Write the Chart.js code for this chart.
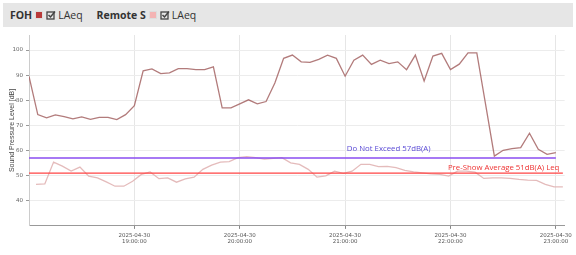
<!DOCTYPE html>
<html>
<head>
<meta charset="utf-8">
<script src="https://cdn.jsdelivr.net/npm/chart.js@4.4.1/dist/chart.umd.min.js"></script>
<style>
  html, body { margin: 0; padding: 0; background: #fff; }
  body { width: 576px; height: 255px; position: relative; overflow: hidden; }
  #bar {
    position: absolute; left: 3px; top: 3px; width: 570px; height: 24px;
    background: #e6e6e6; font-family: "Open Sans", sans-serif; font-size: 10.5px;
    color: #333; display: flex; align-items: center; padding-left: 7px; box-sizing: border-box;
  }
  #bar b { font-weight: 700; margin-right: 3px; }
  #bar .sw { display: inline-block; width: 6px; height: 6px; border: 1px solid #ddd; margin-right: 3px; }
  #bar svg { margin-right: 2px; }
  #bar .gap { margin-right: 14px; }
  #wrap { position: absolute; left: 0; top: 0; width: 576px; height: 255px; }
</style>
</head>
<body>
<div id="wrap"><canvas id="chart"></canvas></div>
<div id="bar">
  <b>FOH</b><span class="sw" style="background:#b83a3a"></span>
  <svg width="10" height="10" viewBox="0 0 10 10"><rect x="1" y="2" width="7" height="7" fill="none" stroke="#444" stroke-width="1.3"/><path d="M2.5 5 L4.5 7 L9 1.5" fill="none" stroke="#444" stroke-width="1.5"/></svg>
  <span class="gap">LAeq</span>
  <b>Remote S</b><span class="sw" style="background:#f4b4b4"></span>
  <svg width="10" height="10" viewBox="0 0 10 10"><rect x="1" y="2" width="7" height="7" fill="none" stroke="#444" stroke-width="1.3"/><path d="M2.5 5 L4.5 7 L9 1.5" fill="none" stroke="#444" stroke-width="1.5"/></svg>
  <span>LAeq</span>
</div>
<script>
// minutes after 18:00 on 2025-04-30
const DAY = '2025-04-30';
const FOH_START = 0;
const REMOTE_START = 4;
const STEP = 5;

// LAeq in dB, one reading every 5 minutes
const fohValues = [
  89.5, 74.3, 73.0, 74.2, 73.5, 72.6, 73.4, 72.4, 73.2, 73.2,
  72.3, 74.3, 77.9, 91.7, 92.5, 90.6, 90.9, 92.6, 92.6, 92.2,
  92.2, 93.3, 77.0, 77.0, 78.6, 80.2, 78.6, 79.5, 86.9, 96.7,
  98.0, 95.3, 95.1, 96.3, 98.0, 96.7, 89.6, 96.0, 98.0, 94.3,
  96.0, 94.6, 95.3, 92.2, 98.0, 87.7, 97.6, 98.7, 92.2, 94.4,
  98.9, 98.9, 78.4, 57.8, 60.1, 60.8, 61.2, 66.9, 60.5, 58.5,
  59.2
];
const remoteValues = [
  46.5, 46.7, 55.4, 53.8, 51.8, 53.4, 49.8, 49.1, 47.5, 45.8,
  45.8, 47.8, 50.5, 51.5, 48.8, 49.1, 47.4, 48.7, 49.4, 52.5,
  54.2, 55.4, 55.6, 57.2, 57.6, 57.2, 56.6, 56.9, 57.2, 55.1,
  54.5, 52.5, 49.4, 49.9, 51.8, 50.9, 51.8, 54.5, 54.5, 53.6,
  53.7, 53.2, 52.1, 51.5, 51.1, 50.7, 50.5, 49.8, 51.8, 51.8,
  51.4, 48.9, 49.1, 49.1, 48.9, 48.5, 48.2, 48.1, 46.5, 45.5,
  45.5
];
const hourTicks = [60, 120, 180, 240, 300];
const yTicks = [40, 50, 60, 70, 80, 90, 100];

const LIMIT = 57;
const LIMIT_LABEL = 'Do Not Exceed 57dB(A)';
const PRESHOW = 51;
const PRESHOW_LABEL = 'Pre-Show Average 51dB(A) Leq';

const toPoints = (vals, start) => vals.map((v, i) => ({ x: start + i * STEP, y: v }));
const fohEnd = FOH_START + (fohValues.length - 1) * STEP;
const remoteEnd = REMOTE_START + (remoteValues.length - 1) * STEP;

function hhmm(min) {
  const h = 18 + Math.floor(min / 60);
  const m = min % 60;
  return String(h).padStart(2, '0') + ':' + String(m).padStart(2, '0') + ':00';
}

// text labels sitting on the two reference lines
const lineLabels = {
  id: 'lineLabels',
  afterDatasetsDraw(chart) {
    const { ctx, scales: { x, y } } = chart;
    ctx.save();
    ctx.font = '7.8px "Open Sans", sans-serif';
    ctx.textBaseline = 'bottom';
    ctx.fillStyle = '#5a4ad6';
    ctx.textAlign = 'left';
    ctx.fillText(LIMIT_LABEL, x.getPixelForValue(181), y.getPixelForValue(LIMIT) - 5);
    ctx.fillStyle = '#ee3333';
    ctx.textAlign = 'right';
    ctx.fillText(PRESHOW_LABEL, x.getPixelForValue(302), y.getPixelForValue(PRESHOW) - 1);
    ctx.restore();
  }
};

new Chart(document.getElementById('chart'), {
  type: 'line',
  data: {
    datasets: [
      {
        data: toPoints(fohValues, FOH_START),
        borderColor: 'rgba(165,100,100,0.85)',
        borderWidth: 1.3,
        pointRadius: 0,
        order: 1
      },
      {
        data: toPoints(remoteValues, REMOTE_START),
        borderColor: 'rgba(225,180,180,0.9)',
        borderWidth: 1.3,
        pointRadius: 0,
        order: 2
      },
      {
        data: [{ x: FOH_START, y: LIMIT }, { x: fohEnd, y: LIMIT }],
        borderColor: '#8a4cf0',
        borderWidth: 1.5,
        pointRadius: 0,
        order: 0
      },
      {
        data: [{ x: FOH_START, y: PRESHOW }, { x: remoteEnd, y: PRESHOW }],
        borderColor: '#ff4444',
        borderWidth: 1.2,
        pointRadius: 0,
        order: 0
      }
    ]
  },
  options: {
    responsive: true,
    maintainAspectRatio: false,
    animation: false,
    layout: { padding: { top: 35, right: 11, bottom: 6, left: 0 } },
    plugins: { legend: { display: false }, tooltip: { enabled: false } },
    scales: {
      x: {
        type: 'linear',
        min: 0,
        max: 305,
        afterBuildTicks: (s) => { s.ticks = hourTicks.map((v) => ({ value: v })); },
        grid: { color: '#e6e6e6', tickColor: '#888', tickLength: 3 },
        border: { color: '#999' },
        ticks: {
          maxRotation: 0,
          padding: 4,
          color: '#555',
          font: { family: 'DejaVu Sans', size: 5.5, lineHeight: 1.1 },
          callback: (v) => [DAY, hhmm(v)]
        }
      },
      y: {
        min: 30,
        max: 106,
        afterBuildTicks: (s) => { s.ticks = yTicks.map((v) => ({ value: v })); },
        afterFit: (s) => { s.width = 29; },
        grid: { color: '#ececec', tickColor: '#999', tickLength: 3 },
        border: { color: '#ccc' },
        ticks: {
          padding: 3,
          color: '#666',
          font: { family: 'DejaVu Sans', size: 5.5 }
        },
        title: {
          display: true,
          text: 'Sound Pressure Level [dB]',
          color: '#444',
          font: { family: 'Liberation Sans', size: 7 },
          padding: { top: 8, bottom: 0 }
        }
      }
    }
  },
  plugins: [lineLabels]
});
</script>
</body>
</html>
